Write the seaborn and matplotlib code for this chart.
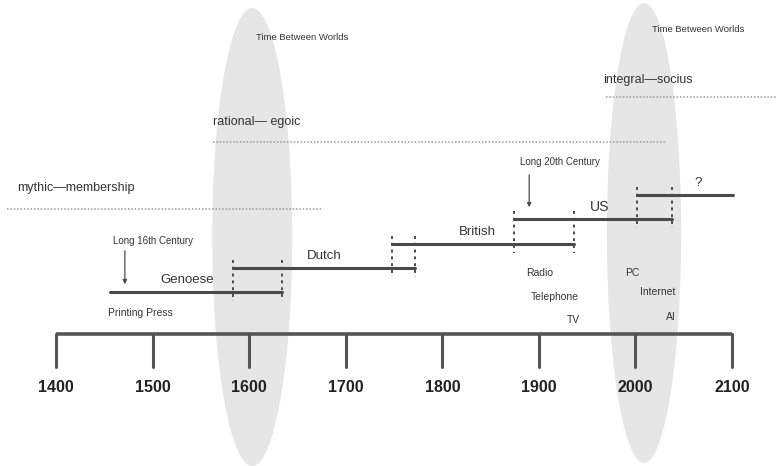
import pandas as pd
import seaborn as sns
import matplotlib.pyplot as plt
from matplotlib.patches import Ellipse

# axis years
tick_years = [1400, 1500, 1600, 1700, 1800, 1900, 2000, 2100]

# hegemonic cycles (start, end, label)
eras = ['Genoese', 'Dutch', 'British', 'US', '?']
era_start = [1456, 1583, 1748, 1874, 2002]
era_end = [1634, 1772, 1936, 2038, 2101]
era_row = [292, 268, 244, 219, 195]          # vertical level of each era
era_label_x = [1536, 1678, 1836, 1963, 2065]

# overlap markers between successive cycles
overlap_years = [1583, 1634, 1748, 1772, 1874, 1936, 2002, 2038]
overlap_pair = [0, 0, 1, 1, 2, 2, 3, 3]      # index of lower era

# technologies
tech = ['Printing Press', 'Radio', 'Telephone', 'TV', 'PC', 'Internet', 'AI']
tech_year = [1487, 1901, 1917, 1936, 1997, 2023, 2037]
tech_row = [313, 273, 297, 320, 273, 292, 317]

# stages of consciousness
stages = ['mythic\u2014membership', 'rational\u2014 egoic', 'integral\u2014socius']
stage_start = [1349, 1562, 1970]
stage_end = [1676, 2033, 2150]
stage_row = [209, 142, 97]
stage_text_x = [1359, 1562, 1967]
stage_text_row = [188, 122, 80]

# "time between worlds" windows
tbw_center = [1603, 2009]
tbw_width = [83, 77]
tbw_row = [237, 233]
tbw_height = [458, 460]
tbw_text_x = [1655, 2065]
tbw_text_row = [37, 29]

# long centuries
long_names = ['Long 16th Century', 'Long 20th Century']
long_text_x = [1500, 1922]
long_text_row = [241, 162]
long_arrow_x = [1471, 1890]
long_arrow_top = [248, 172]
long_arrow_bot = [287, 210]

sns.set_theme(style='white')
plt.rcParams['font.family'] = ['Liberation Sans', 'DejaVu Sans']

dark = '#4a4a4a'
fig = plt.figure(figsize=(7.77, 4.66), dpi=100)
ax = fig.add_axes([0, 0, 1, 1])
ax.set_xlim(1341.6, 2146.8)
ax.set_ylim(466, 0)

for c, w, r, h in zip(tbw_center, tbw_width, tbw_row, tbw_height):
    ax.add_patch(Ellipse((c, r), w, h, color='#e6e6e6', lw=0, zorder=0))
for x, r in zip(tbw_text_x, tbw_text_row):
    ax.text(x, r, 'Time Between Worlds', fontsize=6.8, ha='center', va='center', color='#333333')

# stages
for s, a, b, r, tx, tr in zip(stages, stage_start, stage_end, stage_row, stage_text_x, stage_text_row):
    ax.plot([a, b], [r, r], ls=(0, (1, 1.2)), color='#9a9a9a', lw=1.1)
    ax.text(tx, tr, s, fontsize=9, ha='left', va='center', color='#333333')

# eras
seg = pd.DataFrame({
    'year': era_start + era_end,
    'row': era_row + era_row,
    'era': eras + eras,
})
sns.lineplot(data=seg, x='year', y='row', units='era', estimator=None, sort=False,
             color=dark, lw=2.2, ax=ax)
for e, x, r in zip(eras, era_label_x, era_row):
    ax.text(x, r - 12, e, fontsize=9.5 if e != 'US' else 10, ha='center', va='center', color='#333333')

for x, i in zip(overlap_years, overlap_pair):
    ax.plot([x, x], [era_row[i + 1] - 8, era_row[i] + 9], ls=(0, (1.5, 2)), color=dark, lw=1.4)

# long centuries
for n, tx, tr, axx, at, ab in zip(long_names, long_text_x, long_text_row, long_arrow_x, long_arrow_top, long_arrow_bot):
    ax.text(tx, tr, n, fontsize=7, ha='center', va='center', color='#333333')
    ax.annotate('', xy=(axx, ab), xytext=(axx, at),
                arrowprops=dict(arrowstyle='-|>', color=dark, lw=0.9, mutation_scale=6))

for t, x, r in zip(tech, tech_year, tech_row):
    ax.text(x, r, t, fontsize=7.5, ha='center', va='center', color='#333333')

# timeline axis
ax.plot([tick_years[0], tick_years[-1]], [334, 334], color='#555555', lw=2.6, solid_capstyle='butt')
for y in tick_years:
    ax.plot([y, y], [334, 367], color='#555555', lw=2.2)
    ax.text(y, 387, str(y), fontsize=11.5, fontweight='bold', ha='center', va='center', color='#222222')

ax.axis('off')
plt.savefig('out.png', dpi=100)
